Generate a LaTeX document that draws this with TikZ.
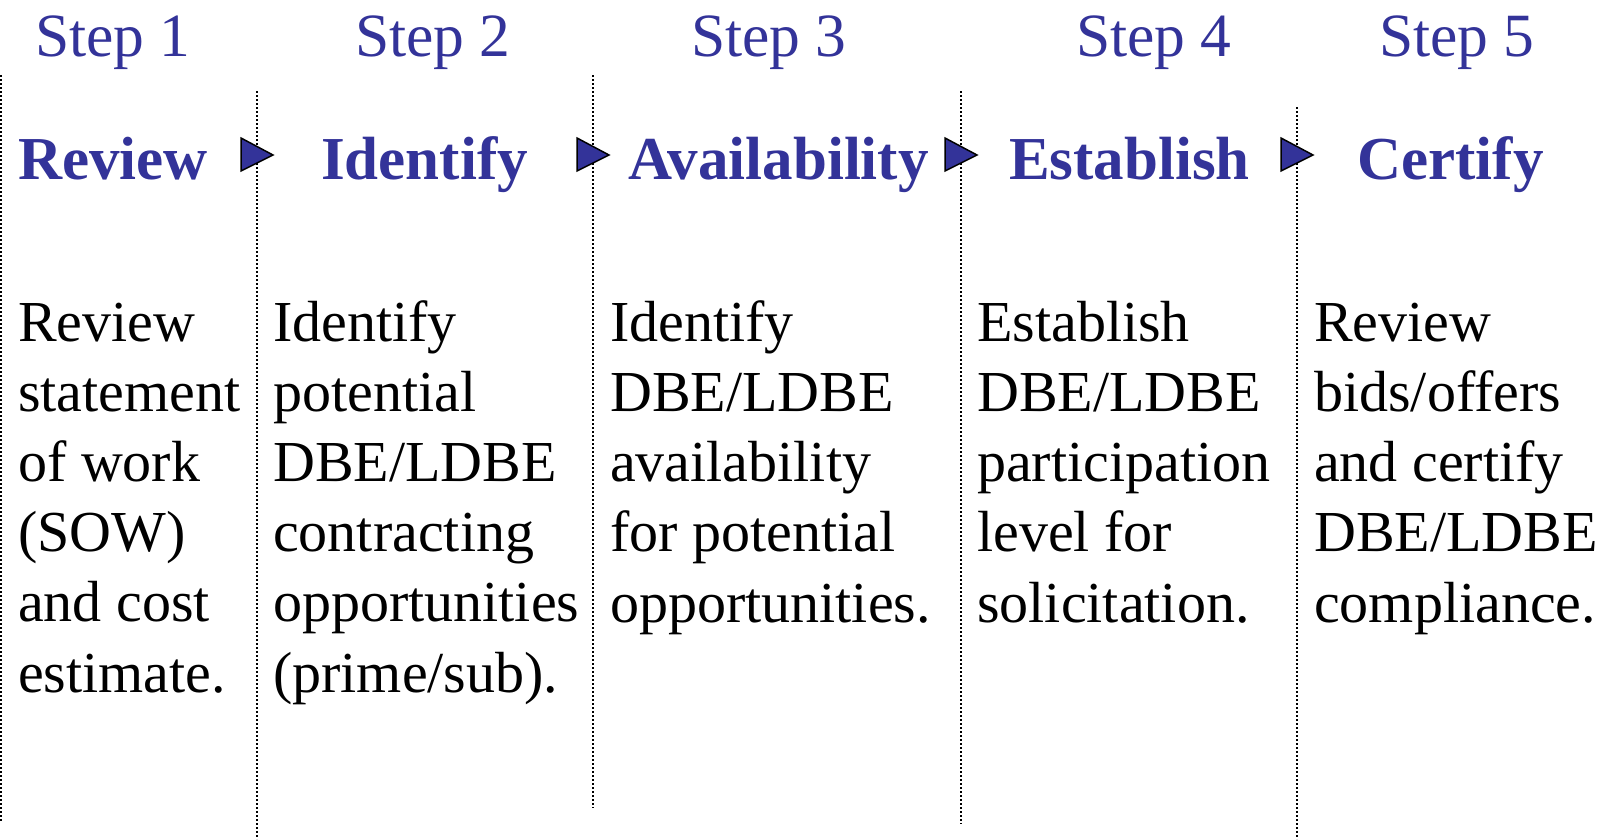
\documentclass[tikz,border=0pt]{standalone}
\usepackage{fontspec}
\setmainfont{Liberation Serif}
\definecolor{stepblue}{HTML}{333399}
\begin{document}
\begin{tikzpicture}[x=1pt,y=-1pt,
  steplabel/.style={anchor=base west,inner sep=0pt,text=stepblue,font=\fontsize{61.5}{72}\selectfont},
  headlabel/.style={anchor=base west,inner sep=0pt,text=stepblue,font=\fontsize{61}{73}\selectfont\bfseries},
  bodytext/.style={anchor=base west,inner sep=0pt,align=left,font=\fontsize{58}{70.2}\selectfont},
  divider/.style={line width=1.5pt,dash pattern=on 2pt off 2pt},
  pointer/.style={fill=stepblue,draw=black,line width=1.5pt,line join=miter}]
\useasboundingbox (0,0) rectangle (1610,839);
% dividers
\coordinate (d0t) at (0.75,75);  \coordinate (d0b) at (0.75,822);
\coordinate (d1t) at (257,91);   \coordinate (d1b) at (257,839);
\coordinate (d2t) at (593,75);   \coordinate (d2b) at (593,808);
\coordinate (d3t) at (961,91);   \coordinate (d3b) at (961,824);
\coordinate (d4t) at (1297,107); \coordinate (d4b) at (1297,839);
\foreach \i in {0,...,4} \draw[divider] (d\i t) -- (d\i b);
% step labels
\node[steplabel] (s1) at (35,56) {Step 1};
\node[steplabel] (s2) at (355,56) {Step 2};
\node[steplabel] (s3) at (691,56) {Step 3};
\node[steplabel] (s4) at (1076,56) {Step 4};
\node[steplabel] (s5) at (1379,56) {Step 5};
% headings
\node[headlabel] (h1) at (18,179) {Review};
\node[headlabel] (h2) at (321,179) {Identify};
\node[headlabel] (h3) at (628,179) {Availability};
\node[headlabel] (h4) at (1009,179) {Establish};
\node[headlabel] (h5) at (1357,179) {Certify};
% pointers
\foreach \x in {241,577,945,1281}
  \draw[pointer] (\x,138) -- (\x+32,155) -- (\x,171) -- cycle;
% body (anchor on the baseline of the last line)
\node[bodytext] (b1) at (18,692) {Review\\statement\\of work\\(SOW)\\and cost\\estimate.};
\node[bodytext] (b2) at (273,692) {Identify\\potential\\DBE/LDBE\\contracting\\opportunities\\(prime/sub).};
\node[bodytext] (b3) at (610,622) {Identify\\DBE/LDBE\\availability\\for potential\\opportunities.};
\node[bodytext] (b4) at (977,622) {Establish\\DBE/LDBE\\participation\\level for\\solicitation.};
\node[bodytext] (b5) at (1314,622) {Review\\bids/offers\\and certify\\DBE/LDBE\\compliance.};
\end{tikzpicture}
\end{document}
